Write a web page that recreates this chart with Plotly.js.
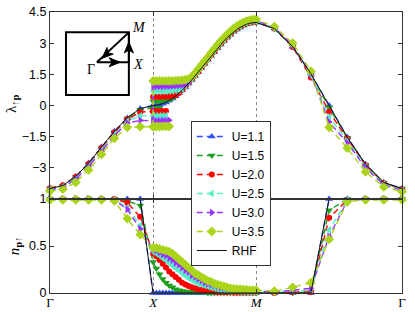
<!DOCTYPE html>
<html><head><meta charset="utf-8">
<script src="https://cdn.plot.ly/plotly-3.0.1.min.js"></script>
<style>html,body{margin:0;padding:0;background:#fff}#chart{width:415px;height:312px}</style>
</head><body><div id="chart"></div>
<script>
// k-path segment resolutions (Γ→X, X→M, M→Γ)
const segGX = 8, segXM = 32, segMG = 8;

const seriesNames = ['U=1.1', 'U=1.5', 'U=2.0', 'U=2.5', 'U=3.0', 'U=3.5'];
const tickLabelsX = ['Γ', '<i>X</i>', '<i>M</i>', 'Γ'];
const tickValsTop = [-3, -1.5, 0, 1.5, 3, 4.5];
const tickTextTop = ['−3', '−1.5', '0', '1.5', '3', '4.5'];
const tickValsBot = [0, 0.5, 1];
const tickTextBot = ['0', '0.5', '1'];

// λ↑p : Γ→X (9) + X→M (33) + M→Γ (8)
const lam_U11 = [-4.0,-3.85,-3.42,-2.77,-2.0,-1.24,-0.6,-0.16,0.0,
  0,0.01,0.04,0.09,0.15,0.24,0.34,0.45,0.59,0.73,0.89,1.06,1.23,1.42,1.61,1.8,2.0,2.2,2.39,2.58,2.77,2.94,3.11,3.27,3.41,3.55,3.66,3.76,3.85,3.91,3.96,3.99,4.0,
  3.7,2.83,1.53,0.0,-1.53,-2.83,-3.7,-4.0];
const lam_U15 = [-4.0,-3.86,-3.44,-2.8,-2.04,-1.28,-0.62,-0.2,-0.12,
  0.2,0.2,0.21,0.22,0.24,0.28,0.35,0.46,0.6,0.74,0.9,1.07,1.25,1.43,1.62,1.82,2.01,2.21,2.4,2.59,2.78,2.95,3.12,3.28,3.42,3.56,3.67,3.77,3.86,3.92,3.97,4.0,4.01,
  3.7,2.84,1.5,-0.1,-1.55,-2.85,-3.72,-4.0];
const lam_U20 = [-3.98,-3.84,-3.43,-2.8,-2.05,-1.3,-0.66,-0.32,-0.28,
  0.42,0.42,0.42,0.43,0.43,0.44,0.46,0.5,0.6,0.75,0.91,1.08,1.26,1.44,1.63,1.83,2.02,2.22,2.41,2.6,2.79,2.96,3.13,3.29,3.43,3.57,3.68,3.78,3.87,3.93,3.98,4.01,4.02,
  3.71,2.82,1.35,-0.3,-1.6,-2.88,-3.73,-4.02];
const lam_U25 = [-4.03,-3.9,-3.5,-2.88,-2.13,-1.38,-0.75,-0.5,-0.5,
  0.68,0.68,0.68,0.69,0.69,0.7,0.71,0.72,0.74,0.8,0.93,1.1,1.28,1.47,1.66,1.85,2.05,2.25,2.44,2.63,2.82,2.99,3.16,3.32,3.46,3.6,3.71,3.81,3.9,3.96,4.01,4.04,4.05,
  3.72,2.86,1.45,-0.55,-1.7,-2.95,-3.78,-4.05];
const lam_U30 = [-4.06,-3.94,-3.55,-2.93,-2.2,-1.45,-0.84,-0.72,-0.73,
  0.92,0.92,0.92,0.92,0.93,0.93,0.94,0.95,0.96,0.98,1.0,1.12,1.31,1.5,1.69,1.88,2.08,2.28,2.47,2.66,2.85,3.03,3.2,3.36,3.5,3.64,3.75,3.85,3.94,4.0,4.05,4.08,4.09,
  3.75,2.9,1.52,-0.8,-1.8,-3.0,-3.82,-4.08];
const lam_U35 = [-4.12,-4.03,-3.7,-3.1,-2.35,-1.58,-1.05,-1.02,-1.02,
  1.18,1.18,1.18,1.18,1.18,1.19,1.19,1.2,1.21,1.22,1.24,1.27,1.38,1.56,1.75,1.95,2.14,2.34,2.54,2.73,2.92,3.1,3.27,3.43,3.57,3.71,3.82,3.92,4.0,4.06,4.11,4.14,4.15,
  3.8,3.0,1.65,-1.05,-2.05,-3.2,-3.92,-4.15];
const lam_RHF = [-4.0,-3.85,-3.41,-2.77,-2.0,-1.24,-0.59,-0.15,0.0,
  0,0.01,0.04,0.09,0.15,0.24,0.34,0.45,0.59,0.73,0.89,1.06,1.23,1.42,1.61,1.8,2.0,2.2,2.39,2.58,2.77,2.94,3.11,3.27,3.41,3.55,3.66,3.76,3.85,3.91,3.96,3.99,4.0,
  3.7,2.83,1.53,0.0,-1.53,-2.83,-3.7,-4.0];

// lower branch of λ just past X (X→M start)
const lamLow_U11 = [];
const lamLow_U15 = [-0.12,-0.12,-0.12];
const lamLow_U20 = [-0.28,-0.28,-0.28,-0.28,-0.27];
const lamLow_U25 = [-0.5,-0.5,-0.5,-0.49,-0.49];
const lamLow_U30 = [-0.73,-0.73,-0.73,-0.72,-0.72,-0.71];
const lamLow_U35 = [-1.02,-1.02,-1.02,-1.01,-1.01,-1.0];

// n_p↑ : Γ→X (9) + X→M (32, excluding X) + M→Γ (8)
const n_U11 = [1,1,1,1,1,1,1,1,0,
  0,0,0,0,0,0,0,0,0,0,0,0,0,0,0,0,0,0,0,0,0,0,0,0,0,0,0,0,0,0,0,0,
  0,0,0,1,1,1,1,1];
const n_U15 = [1,1,1,1,1,1,0.98,0.93,0.33,
  0.26,0.2,0.15,0.11,0.08,0.06,0.04,0.03,0.02,0.015,0.01,0.01,0.01,0.01,0.01,0.01,0,0,0,0,0,0,0,0,0,0,0,0,0,0,0,0,
  0,0,0.01,0.88,1,1,1,1];
const n_U20 = [1,1,1,1,1,1,0.96,0.81,0.42,
  0.39,0.35,0.31,0.27,0.23,0.2,0.17,0.14,0.11,0.09,0.075,0.06,0.05,0.04,0.035,0.03,0.025,0.02,0.015,0.01,0.01,0.01,0.01,0.01,0.005,0.005,0.005,0.005,0.005,0.005,0.005,0.005,
  0,0.01,0.01,0.8,0.99,1,1,1];
const n_U25 = [1,1,1,1,1,0.99,0.91,0.72,0.44,
  0.42,0.4,0.37,0.35,0.32,0.29,0.26,0.24,0.21,0.18,0.16,0.14,0.12,0.1,0.09,0.08,0.07,0.06,0.05,0.04,0.035,0.03,0.025,0.02,0.02,0.02,0.015,0.015,0.015,0.01,0.01,0.01,
  0.01,0.02,0.03,0.67,0.99,1,1,1];
const n_U30 = [1,1,1,1,1,0.99,0.89,0.68,0.46,
  0.45,0.43,0.41,0.4,0.37,0.35,0.32,0.3,0.27,0.24,0.22,0.19,0.17,0.15,0.13,0.11,0.1,0.09,0.08,0.07,0.06,0.05,0.045,0.04,0.035,0.03,0.03,0.025,0.025,0.02,0.02,0.02,
  0.01,0.03,0.05,0.6,0.98,1,1,1];
const n_U35 = [0.99,0.99,0.99,0.99,0.99,0.98,0.79,0.62,0.48,
  0.48,0.47,0.46,0.45,0.44,0.42,0.39,0.36,0.33,0.3,0.27,0.24,0.21,0.19,0.17,0.15,0.13,0.12,0.1,0.09,0.08,0.07,0.06,0.05,0.045,0.04,0.04,0.035,0.035,0.03,0.03,0.03,
  0.02,0.06,0.11,0.57,0.97,0.99,0.99,0.99];
const n_RHF = [1,1,1,1,1,1,1,1,0,
  0,0,0,0,0,0,0,0,0,0,0,0,0,0,0,0,0,0,0,0,0,0,0,0,0,0,0,0,0,0,0,0,
  0,0,0,1,1,1,1,1];

// path coordinates along Γ→X→M→Γ (lengths in units of π)
const kGX = [], kXM = [], kMG = [];
for (let i = 0; i <= segGX; i++) kGX.push(i / segGX);
for (let j = 0; j <= segXM; j++) kXM.push(1 + j / segXM);
for (let m = 1; m <= segMG; m++) kMG.push(2 + Math.SQRT2 * m / segMG);
const kEnd = 2 + Math.SQRT2;
const xTop = kGX.concat(kXM, kMG);
const xBot = kGX.concat(kXM.slice(1), kMG);

const styles = [
  {color: '#3050ff', symbol: 'triangle-up', size: 7},
  {color: '#1f9e1f', symbol: 'triangle-down', size: 7},
  {color: '#ff0000', symbol: 'circle', size: 6},
  {color: '#55f0c4', symbol: 'triangle-left', size: 7},
  {color: '#9b30ff', symbol: 'triangle-right', size: 7},
  {color: '#a9d41a', symbol: 'diamond', size: 7.5}
];
const lamAll = [lam_U11, lam_U15, lam_U20, lam_U25, lam_U30, lam_U35];
const lowAll = [lamLow_U11, lamLow_U15, lamLow_U20, lamLow_U25, lamLow_U30, lamLow_U35];
const nAll = [n_U11, n_U15, n_U20, n_U25, n_U30, n_U35];

const traces = [];
seriesNames.forEach((nm, k) => {
  const st = styles[k];
  const base = {
    mode: 'lines+markers', cliponaxis: false, hoverinfo: 'skip',
    line: {color: st.color, width: 1.4, dash: '6px,4px'},
    marker: {symbol: st.symbol, size: st.size, color: st.color, line: {width: 0}}
  };
  traces.push(Object.assign({}, base, {x: xTop, y: lamAll[k], xaxis: 'x2', yaxis: 'y2', name: nm, showlegend: true}));
  if (lowAll[k].length) traces.push(Object.assign({}, base, {x: kXM.slice(0, lowAll[k].length), y: lowAll[k], xaxis: 'x2', yaxis: 'y2', name: nm, showlegend: false}));
  traces.push(Object.assign({}, base, {x: xBot, y: nAll[k], xaxis: 'x', yaxis: 'y', name: nm, showlegend: false}));
});
traces.push({x: xTop, y: lam_RHF, xaxis: 'x2', yaxis: 'y2', mode: 'lines', name: 'RHF', cliponaxis: false, line: {color: '#111', width: 1}});
traces.push({x: xBot, y: n_RHF, xaxis: 'x', yaxis: 'y', mode: 'lines', name: 'RHF', showlegend: false, cliponaxis: false, line: {color: '#111', width: 1}});

const split = 94 / 281;
const axCommon = {showline: true, linecolor: '#333', linewidth: 1, mirror: 'ticks', ticks: 'inside', ticklen: 4, tickcolor: '#333', zeroline: false, automargin: false};
const xCommon = Object.assign({}, axCommon, {range: [0, kEnd], tickmode: 'array', tickvals: [0, 1, 2, kEnd], showgrid: true, gridcolor: '#888', griddash: 'dot', gridwidth: 1});

const ser = 'Liberation Serif, DejaVu Serif, serif';
const headStyle = {type: 'path', xref: 'x2', yref: 'y2', xsizemode: 'pixel', ysizemode: 'pixel', fillcolor: '#000', line: {color: '#000', width: 1}};
const layout = {
  width: 415, height: 312,
  margin: {l: 50, r: 13, t: 12, b: 19, autoexpand: false},
  paper_bgcolor: '#fff', plot_bgcolor: '#fff',
  font: {family: 'Liberation Sans, Arial, sans-serif', size: 12, color: '#000'},
  showlegend: true,
  xaxis: Object.assign({}, xCommon, {domain: [0, 1], anchor: 'y', ticktext: tickLabelsX, tickfont: {family: ser, size: 13}, ticklabelstandoff: -3}),
  xaxis2: Object.assign({}, xCommon, {domain: [0, 1], anchor: 'y2', matches: 'x', showticklabels: false}),
  yaxis: Object.assign({}, axCommon, {domain: [0, split], range: [0, 1], tickmode: 'array', tickvals: tickValsBot, ticktext: tickTextBot, showgrid: false, tickfont: {size: 12.5}}),
  yaxis2: Object.assign({}, axCommon, {domain: [split, 1], range: [-4.5, 4.5], tickmode: 'array', tickvals: tickValsTop, ticktext: tickTextTop, showgrid: false, tickfont: {size: 12.5}}),
  legend: {x: 0.4, y: (293 - 121) / 281, xanchor: 'left', yanchor: 'top', bgcolor: '#fff', bordercolor: '#333', borderwidth: 1, font: {size: 12}, tracegroupgap: 0},
  shapes: [
    {type: 'rect', xref: 'x2', yref: 'y2', x0: 0.155, x1: 0.765, y0: 0.51, y1: 3.52, line: {color: '#000', width: 2}},
    {type: 'line', xref: 'x2', yref: 'y2', x0: 0.455, y0: 2.08, x1: 0.765, y1: 2.08, line: {color: '#000', width: 2}},
    {type: 'line', xref: 'x2', yref: 'y2', x0: 0.765, y0: 2.08, x1: 0.765, y1: 3.52, line: {color: '#000', width: 2}},
    {type: 'line', xref: 'x2', yref: 'y2', x0: 0.765, y0: 3.52, x1: 0.455, y1: 2.08, line: {color: '#000', width: 2}},
    Object.assign({}, headStyle, {xanchor: 0.68, yanchor: 2.08, path: 'M 0 0 L -11 4.5 L -8 0 L -11 -4.5 Z'}),
    Object.assign({}, headStyle, {xanchor: 0.765, yanchor: 3.06, path: 'M 0 0 L -4.5 -11 L 0 -8 L 4.5 -11 Z'}),
    Object.assign({}, headStyle, {xanchor: 0.505, yanchor: 2.27, path: 'M 0 0 L 4.94 10.8 L 5.83 5.47 L 11.1 4.24 Z'})
  ],
  annotations: [
    {xref: 'x2', yref: 'y2', x: 0.397, y: 1.74, text: 'Γ', showarrow: false, font: {family: ser, size: 14}},
    {xref: 'x2', yref: 'y2', x: 0.852, y: 1.96, text: '<i>X</i>', showarrow: false, font: {family: ser, size: 14}},
    {xref: 'x2', yref: 'y2', x: 0.862, y: 3.76, text: '<i>M</i>', showarrow: false, font: {family: ser, size: 14}},
    {xref: 'paper', yref: 'paper', x: -0.108, y: (293 - 103) / 281, xanchor: 'center', yanchor: 'middle', text: 'λ<sub>↑<b>p</b></sub>', textangle: -90, showarrow: false, font: {family: ser, size: 15}},
    {xref: 'paper', yref: 'paper', x: -0.099, y: (293 - 246) / 281, xanchor: 'center', yanchor: 'middle', text: '<i>n</i><sub><b>p</b>↑</sub>', textangle: -90, showarrow: false, font: {family: ser, size: 15}}
  ]
};

Plotly.newPlot('chart', traces, layout, {displayModeBar: false, staticPlot: true});
</script>
</body></html>
